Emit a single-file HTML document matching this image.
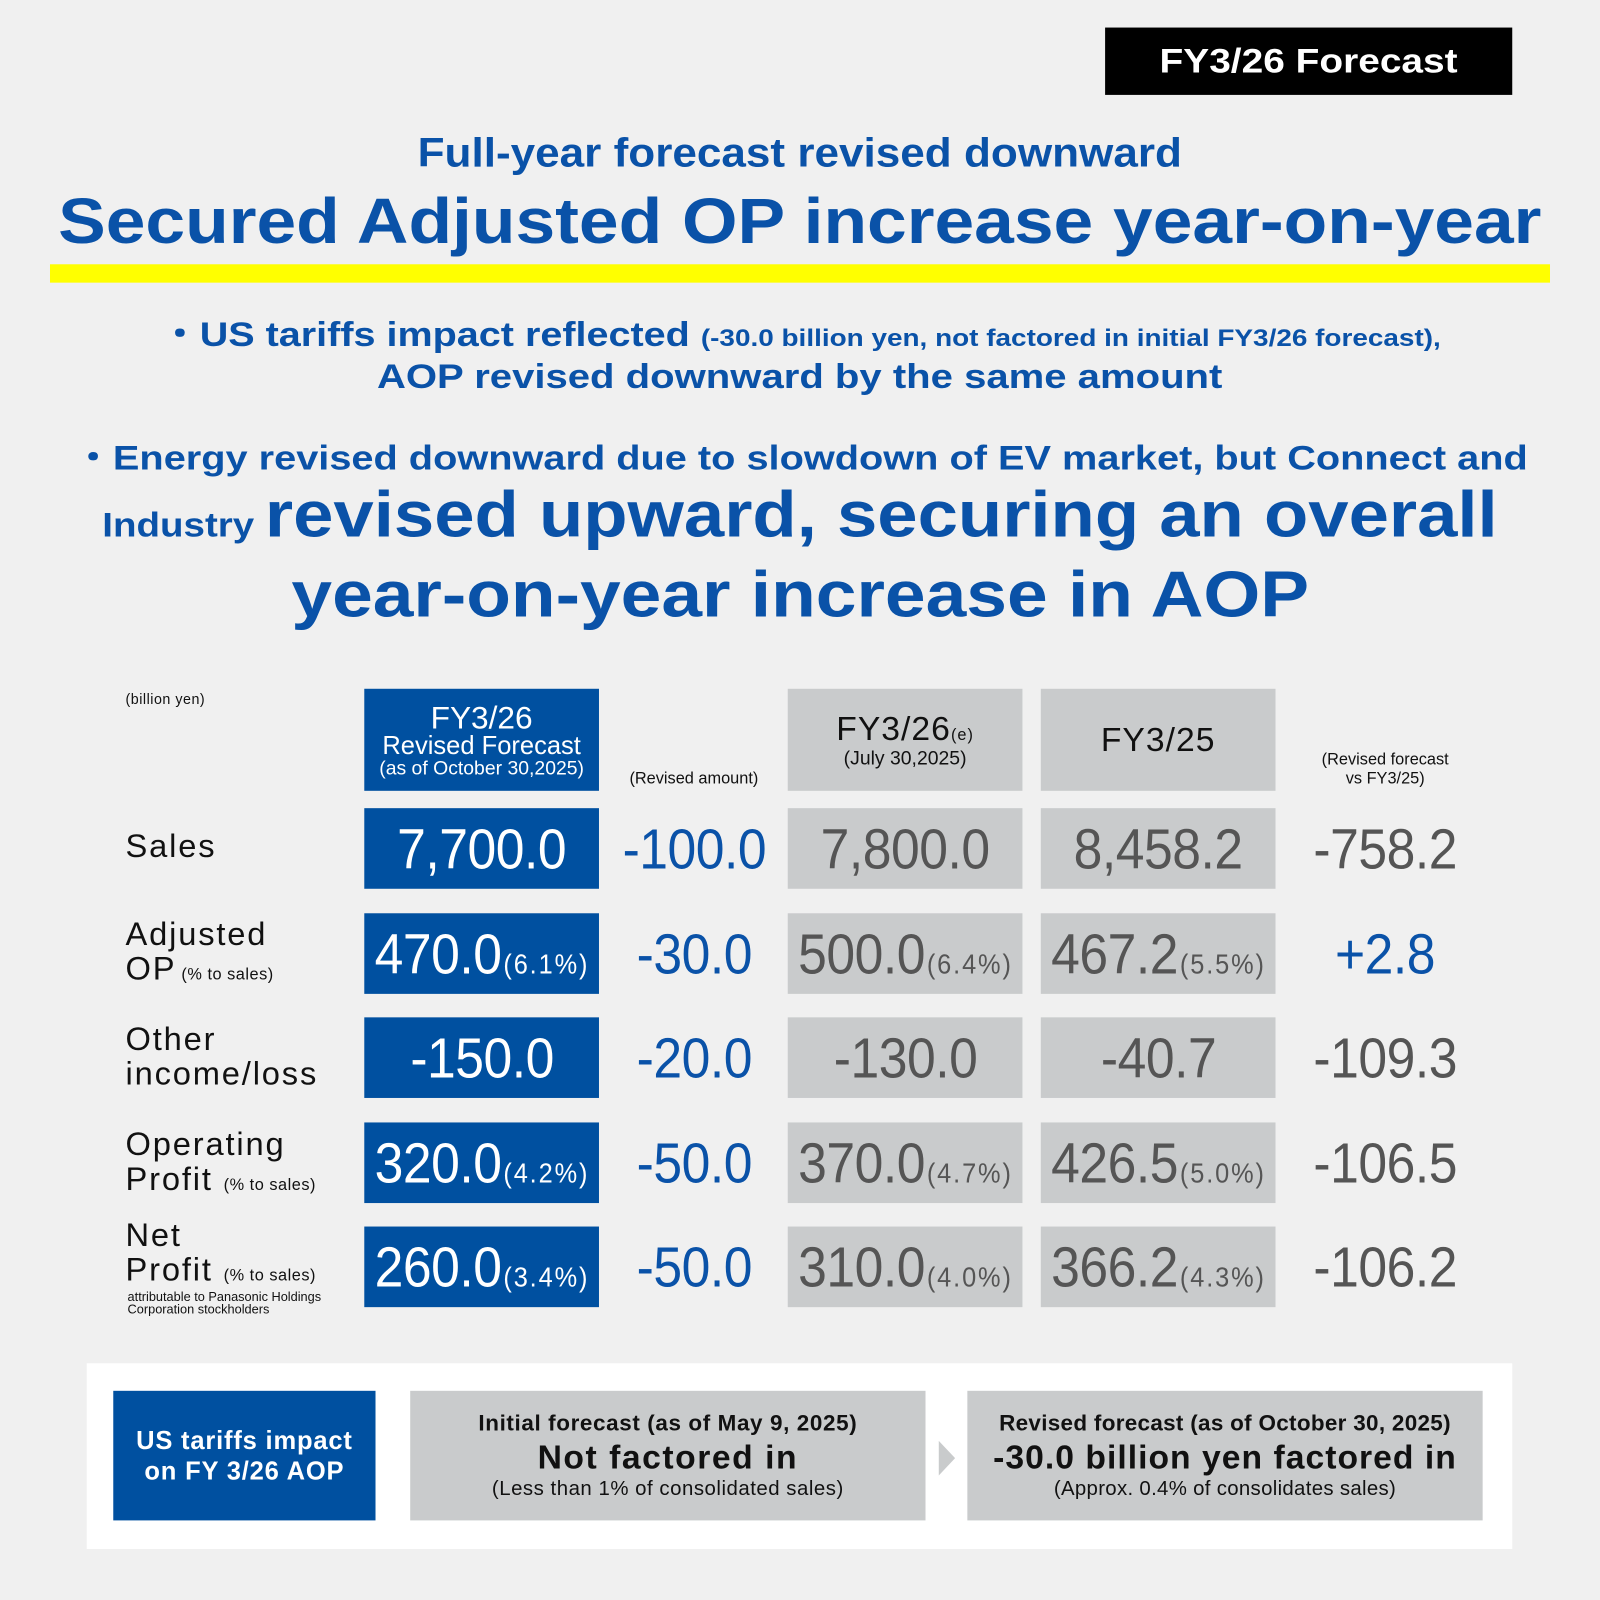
<!DOCTYPE html>
<html><head><meta charset="utf-8"><style>
html,body{margin:0;padding:0;background:#f0f0f0;}
#w{position:absolute;left:0;top:0;width:1568px;height:1568px;transform:scale(1.020408);transform-origin:0 0;font-family:"Liberation Sans",sans-serif;background:#f0f0f0;overflow:hidden}
.a{position:absolute}
.c{position:absolute;display:flex;align-items:center;justify-content:center;text-align:center}
.bl{background:#0050a0;color:#fff}
.gr{background:#c9cbcc;color:#555}
.t{color:#0a52a8;font-weight:bold;white-space:nowrap;left:0;width:1568px;text-align:center}
.t>span.s{display:inline-block;transform-origin:center}
.num{font-size:55px;display:inline-block;transform:scaleX(0.92);white-space:nowrap;letter-spacing:-0.5px}
.num small{font-size:27px;letter-spacing:2px;margin-left:2px}
.lab{left:123px;font-size:32px;color:#111;line-height:34px;letter-spacing:1.8px}
.lab small{font-size:16px;letter-spacing:0.5px}
.rv{color:#0a52a8}
.dk{color:#555}
.sx{display:inline-block;white-space:nowrap}
</style></head><body><div id="w">
<div class="c" style="left:1083px;top:27px;width:399px;height:66px;background:#000;color:#fff;font-weight:bold;font-size:34px;"><span class="sx" style="transform:scaleX(1.12)">FY3/26 Forecast</span></div>
<div class="a t" style="top:128px;font-size:40px;"><span class="s" style="transform:scaleX(1.08)">Full-year forecast revised downward</span></div>
<div class="a t" style="top:181px;font-size:63px;"><span class="s" style="transform:scaleX(1.11)">Secured Adjusted OP increase year-on-year</span></div>
<div class="a" style="left:49px;top:259px;width:1470px;height:18px;background:#ffff00"></div>
<div class="a t" style="top:300px;font-size:34px;"><span class="s" style="transform:scaleX(1.14)">・US tariffs impact reflected <span style="font-size:24px">(-30.0 billion yen, not factored in initial FY3/26 forecast),</span></span></div>
<div class="a t" style="top:350px;font-size:34px;"><span class="s" style="transform:scaleX(1.155)">AOP revised downward by the same amount</span></div>
<div class="a t" style="top:421px;font-size:34px;"><span class="s" style="transform:scaleX(1.145)">・Energy revised downward due to slowdown of EV market, but Connect and</span></div>
<div class="a t" style="top:468px;font-size:34px;line-height:72px;"><span class="s" style="transform:scaleX(1.11)">Industry <span style="font-size:64px">revised upward, securing an overall</span></span></div>
<div class="a t" style="top:545px;font-size:64px;"><span class="s" style="transform:scaleX(1.12)">year-on-year increase in AOP</span></div>

<div class="a" style="left:123px;top:677px;font-size:14px;color:#111;letter-spacing:.5px">(billion yen)</div>
<div class="c bl" style="left:357px;top:675px;width:230px;height:100px;flex-direction:column;line-height:1.0"><div style="font-size:31px;">FY3/26</div><div style="font-size:25px;">Revised Forecast</div><div style="font-size:19px;white-space:nowrap">(as of October 30,2025)</div></div>
<div class="a" style="left:597px;top:755px;width:166px;text-align:center;font-size:16px;color:#111">(Revised amount)</div>
<div class="c gr" style="left:772px;top:675px;width:230px;height:100px;flex-direction:column;color:#111;line-height:1.15"><div style="font-size:33px;letter-spacing:1px">FY3/26<span style="font-size:16px">(e)</span></div><div style="font-size:19px">(July 30,2025)</div></div>
<div class="c gr" style="left:1020px;top:675px;width:230px;height:100px;color:#111;font-size:33px;letter-spacing:1px">FY3/25</div>
<div class="a" style="left:1270px;top:735px;width:175px;text-align:center;font-size:16px;color:#111;line-height:19px">(Revised forecast<br>vs FY3/25)</div>

<div class="a lab" style="top:812px">Sales</div>
<div class="a lab" style="top:898px">Adjusted<br>OP<small> (% to sales)</small></div>
<div class="a lab" style="top:1001px">Other<br>income/loss</div>
<div class="a lab" style="top:1104px">Operating<br>Profit <small>(% to sales)</small></div>
<div class="a lab" style="top:1193px">Net<br>Profit <small>(% to sales)</small></div>
<div class="a" style="left:125px;top:1265px;font-size:12.5px;line-height:12px;color:#111">attributable to Panasonic Holdings<br>Corporation stockholders</div>

<div class="c bl" style="left:357px;top:792px;width:230px;height:79px"><span class="num">7,700.0</span></div>
<div class="c rv" style="left:600px;top:792px;width:160px;height:79px"><span class="num">-100.0</span></div>
<div class="c gr" style="left:772px;top:792px;width:230px;height:79px"><span class="num">7,800.0</span></div>
<div class="c gr" style="left:1020px;top:792px;width:230px;height:79px"><span class="num">8,458.2</span></div>
<div class="c dk" style="left:1270px;top:792px;width:175px;height:79px"><span class="num">-758.2</span></div>

<div class="c bl" style="left:357px;top:895px;width:230px;height:79px"><span class="num">470.0<small>(6.1%)</small></span></div>
<div class="c rv" style="left:600px;top:895px;width:160px;height:79px"><span class="num">-30.0</span></div>
<div class="c gr" style="left:772px;top:895px;width:230px;height:79px"><span class="num">500.0<small>(6.4%)</small></span></div>
<div class="c gr" style="left:1020px;top:895px;width:230px;height:79px"><span class="num">467.2<small>(5.5%)</small></span></div>
<div class="c rv" style="left:1270px;top:895px;width:175px;height:79px"><span class="num">+2.8</span></div>

<div class="c bl" style="left:357px;top:997px;width:230px;height:79px"><span class="num">-150.0</span></div>
<div class="c rv" style="left:600px;top:997px;width:160px;height:79px"><span class="num">-20.0</span></div>
<div class="c gr" style="left:772px;top:997px;width:230px;height:79px"><span class="num">-130.0</span></div>
<div class="c gr" style="left:1020px;top:997px;width:230px;height:79px"><span class="num">-40.7</span></div>
<div class="c dk" style="left:1270px;top:997px;width:175px;height:79px"><span class="num">-109.3</span></div>

<div class="c bl" style="left:357px;top:1100px;width:230px;height:79px"><span class="num">320.0<small>(4.2%)</small></span></div>
<div class="c rv" style="left:600px;top:1100px;width:160px;height:79px"><span class="num">-50.0</span></div>
<div class="c gr" style="left:772px;top:1100px;width:230px;height:79px"><span class="num">370.0<small>(4.7%)</small></span></div>
<div class="c gr" style="left:1020px;top:1100px;width:230px;height:79px"><span class="num">426.5<small>(5.0%)</small></span></div>
<div class="c dk" style="left:1270px;top:1100px;width:175px;height:79px"><span class="num">-106.5</span></div>

<div class="c bl" style="left:357px;top:1202px;width:230px;height:79px"><span class="num">260.0<small>(3.4%)</small></span></div>
<div class="c rv" style="left:600px;top:1202px;width:160px;height:79px"><span class="num">-50.0</span></div>
<div class="c gr" style="left:772px;top:1202px;width:230px;height:79px"><span class="num">310.0<small>(4.0%)</small></span></div>
<div class="c gr" style="left:1020px;top:1202px;width:230px;height:79px"><span class="num">366.2<small>(4.3%)</small></span></div>
<div class="c dk" style="left:1270px;top:1202px;width:175px;height:79px"><span class="num">-106.2</span></div>

<div class="a" style="left:85px;top:1336px;width:1397px;height:182px;background:#fff"></div>
<div class="c bl" style="left:111px;top:1363px;width:257px;height:127px;font-weight:bold;font-size:25px;line-height:30px;letter-spacing:.8px">US tariffs impact<br>on FY 3/26 AOP</div>
<div class="c gr" style="left:402px;top:1363px;width:505px;height:127px;flex-direction:column;color:#111;line-height:1.2"><div style="font-size:22px;font-weight:bold;letter-spacing:.6px">Initial forecast (as of May 9, 2025)</div><div style="font-size:33px;font-weight:bold;letter-spacing:1.5px">Not factored in</div><div style="font-size:20px;letter-spacing:.5px">(Less than 1% of consolidated sales)</div></div>
<div class="a" style="left:920px;top:1412px;width:0;height:0;border-top:17px solid transparent;border-bottom:17px solid transparent;border-left:16px solid #c9cbcc"></div>
<div class="c gr" style="left:948px;top:1363px;width:505px;height:127px;flex-direction:column;color:#111;line-height:1.2"><div style="font-size:22px;font-weight:bold;letter-spacing:.3px">Revised forecast (as of October 30, 2025)</div><div style="font-size:33px;font-weight:bold;letter-spacing:1px">-30.0 billion yen factored in</div><div style="font-size:20px;letter-spacing:.3px">(Approx. 0.4% of consolidates sales)</div></div>
</div></body></html>
